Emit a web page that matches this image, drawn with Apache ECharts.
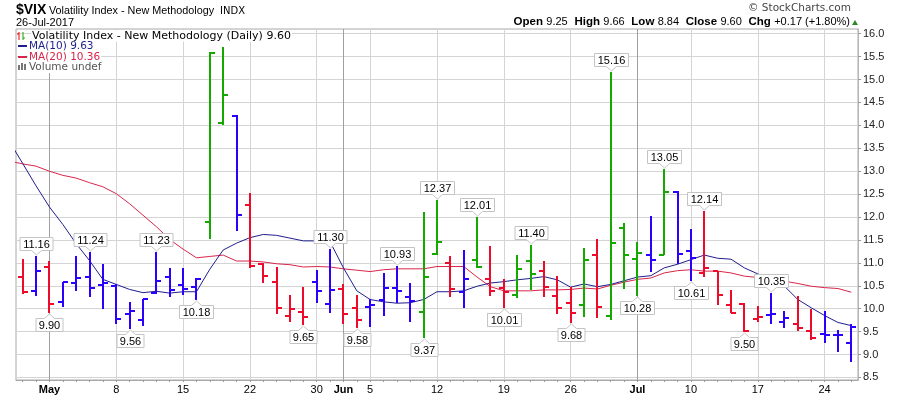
<!DOCTYPE html>
<html><head><meta charset="utf-8">
<script src="https://cdn.jsdelivr.net/npm/echarts@6/dist/echarts.min.js"></script>
<style>html,body{margin:0;padding:0;background:#fff}#c{width:900px;height:396px}</style>
</head><body><div id="c"></div>
<script>
const dates = ["2017-04-26","2017-04-27","2017-04-28","2017-05-01","2017-05-02","2017-05-03","2017-05-04","2017-05-05","2017-05-08","2017-05-09","2017-05-10","2017-05-11","2017-05-12","2017-05-15","2017-05-16","2017-05-17","2017-05-18","2017-05-19","2017-05-22","2017-05-23","2017-05-24","2017-05-25","2017-05-26","2017-05-30","2017-05-31","2017-06-01","2017-06-02","2017-06-05","2017-06-06","2017-06-07","2017-06-08","2017-06-09","2017-06-12","2017-06-13","2017-06-14","2017-06-15","2017-06-16","2017-06-19","2017-06-20","2017-06-21","2017-06-22","2017-06-23","2017-06-26","2017-06-27","2017-06-28","2017-06-29","2017-06-30","2017-07-03","2017-07-05","2017-07-06","2017-07-07","2017-07-10","2017-07-11","2017-07-12","2017-07-13","2017-07-14","2017-07-17","2017-07-18","2017-07-19","2017-07-20","2017-07-21","2017-07-24","2017-07-25","2017-07-26"];
const open = [null,10.70,10.39,10.92,10.15,10.57,10.70,10.52,10.50,9.88,9.75,10.35,10.70,10.52,10.48,11.89,14.06,14.21,12.27,10.98,10.58,9.83,9.92,10.59,10.11,10.42,10.02,10.03,10.19,10.45,10.26,9.93,11.19,11.00,10.36,11.07,10.64,10.46,10.29,11.04,10.82,10.27,10.13,10.07,11.17,9.84,11.75,11.08,11.18,11.18,12.54,11.26,10.78,10.82,10.08,10.11,9.78,9.87,9.71,9.67,9.52,9.45,9.42,9.25];
const high = [null,11.09,11.16,11.03,10.59,11.15,11.24,10.97,10.54,10.15,10.22,11.23,10.89,10.89,10.67,15.60,15.72,14.22,12.52,11.00,10.90,10.29,10.47,10.84,11.30,10.53,10.29,10.22,10.77,10.93,10.57,12.11,12.37,11.15,11.27,12.01,11.36,10.64,11.17,11.40,11.05,10.71,10.47,11.32,11.52,15.16,11.87,11.46,12.03,13.05,12.57,11.74,12.14,10.82,10.40,10.12,10.05,10.35,9.95,10.28,10.00,9.96,9.54,9.66];
const low = [null,10.32,10.28,9.90,10.03,10.39,10.26,9.99,9.67,9.56,9.62,10.33,10.26,10.29,10.18,11.51,14.01,11.70,10.89,10.55,9.88,9.72,9.65,10.13,9.91,9.66,9.58,9.59,9.85,10.13,9.72,9.37,11.18,10.25,10.02,10.88,10.27,10.01,10.24,10.40,10.25,9.88,9.68,9.81,9.80,9.76,10.43,10.28,10.79,11.18,10.98,10.61,10.69,10.08,9.90,9.50,9.71,9.67,9.58,9.51,9.32,9.26,9.06,8.84];
const close = [null,10.36,10.82,10.11,10.59,10.68,10.46,10.57,9.77,9.96,10.21,10.60,10.40,10.42,10.65,15.59,14.66,12.04,10.93,10.72,10.02,9.99,9.81,10.38,10.41,9.89,9.75,10.07,10.45,10.39,10.16,10.70,11.46,10.42,10.64,10.90,10.38,10.37,10.86,10.75,10.48,10.02,9.90,11.06,10.03,11.44,11.18,11.22,11.07,12.54,11.19,11.11,10.89,10.30,9.90,9.51,9.82,9.89,9.79,9.58,9.36,9.43,9.43,9.60];
const prevClose = 9.43;
// Elder-impulse state of each bar: 1 up, 0 neutral, -1 down
const impulse = [0,-1,0,-1,0,0,0,0,0,0,0,0,0,0,0,1,1,0,-1,-1,-1,-1,-1,0,0,-1,-1,0,0,0,0,1,1,-1,0,1,-1,-1,1,1,-1,-1,-1,1,-1,1,1,1,0,1,0,0,-1,-1,-1,-1,-1,0,0,-1,-1,0,0,0];
const ma10 = [13.65,13.17,12.68,12.22,11.84,11.42,11.05,10.64,10.53,10.42,10.35,10.38,10.34,10.37,10.37,10.86,11.28,11.43,11.55,11.62,11.60,11.54,11.48,11.48,11.46,10.89,10.39,10.20,10.15,10.12,10.13,10.20,10.37,10.37,10.39,10.49,10.56,10.59,10.63,10.66,10.70,10.63,10.47,10.54,10.48,10.53,10.61,10.69,10.72,10.89,10.97,11.07,11.17,11.10,11.08,10.89,10.76,10.62,10.49,10.20,10.02,9.85,9.70,9.63];
const ma20 = [13.22,13.16,13.11,13.00,12.91,12.85,12.75,12.66,12.51,12.29,12.04,11.79,11.51,11.30,11.11,11.14,11.17,11.04,11.04,11.02,10.98,10.96,10.91,10.92,10.91,10.87,10.84,10.81,10.85,10.87,10.87,10.87,10.92,10.92,10.92,10.69,10.48,10.39,10.39,10.39,10.41,10.41,10.42,10.45,10.43,10.51,10.58,10.64,10.67,10.78,10.83,10.85,10.82,10.82,10.78,10.71,10.68,10.66,10.60,10.55,10.49,10.46,10.44,10.36];
const highMarks = [2,6,11,24,29,32,35,39,45,49,52,57];
const lowMarks = [3,9,14,22,26,31,37,42,47,51,55];
const yTicks = [8.5,9.0,9.5,10.0,10.5,11.0,11.5,12.0,12.5,13.0,13.5,14.0,14.5,15.0,15.5,16.0];
const monthNames = ["Jan","Feb","Mar","Apr","May","Jun","Jul","Aug","Sep","Oct","Nov","Dec"];

const COL = {up:'#14a800', flat:'#2a00ff', down:'#ee0a2a'};
const FONT = '"Liberation Sans", Arial, sans-serif';
const NARROW = '"Liberation Sans Narrow", "Liberation Sans", Arial, sans-serif';
const LEGF = '"DejaVu Sans", sans-serif';

// derive week / month starts from the dates
const dayIdx = [], weekIdx = [], monthIdx = [];
for (let i = 1; i < dates.length; i++) {
  dayIdx.push(i);
  const d = new Date(dates[i] + 'T12:00:00Z'), p = new Date(dates[i-1] + 'T12:00:00Z');
  if (d.getUTCMonth() !== p.getUTCMonth()) { weekIdx.push(i); monthIdx.push(i); }
  else if (d.getUTCDay() < p.getUTCDay()) weekIdx.push(i);
}
function xLabel(v) {
  const i = Math.round(v);
  const d = new Date(dates[i] + 'T12:00:00Z');
  if (monthIdx.indexOf(i) >= 0) return '{m|' + monthNames[d.getUTCMonth()] + '}';
  return String(d.getUTCDate());
}

const ohlcData = [];
for (let i = 1; i < dates.length; i++) ohlcData.push([i, open[i], high[i], low[i], close[i], impulse[i]]);
const labData = [];
highMarks.forEach(i => labData.push([i, high[i], 1]));
lowMarks.forEach(i => labData.push([i, low[i], -1]));

const mctx = document.createElement('canvas').getContext('2d');
const LABFONT = '11px ' + NARROW;
mctx.font = LABFONT;

function renderBar(params, api) {
  const x = api.value(0);
  const pO = api.coord([x, api.value(1)]);
  const pH = api.coord([x, api.value(2)]);
  const pL = api.coord([x, api.value(3)]);
  const pC = api.coord([x, api.value(4)]);
  const imp = api.value(5);
  const color = imp > 0 ? COL.up : (imp < 0 ? COL.down : COL.flat);
  const cx = Math.round(pH[0]);
  const st = {stroke: color, lineWidth: 2};
  const oy = Math.round(pO[1]) , cy = Math.round(pC[1]);
  return {type: 'group', children: [
    {type: 'line', shape: {x1: cx, y1: Math.round(pH[1]), x2: cx, y2: Math.round(pL[1])}, style: st},
    {type: 'line', shape: {x1: cx - 5, y1: oy, x2: cx, y2: oy}, style: st},
    {type: 'line', shape: {x1: cx, y1: cy, x2: cx + 5, y2: cy}, style: st}
  ]};
}
function renderLabel(params, api) {
  const x = api.value(0), v = api.value(1), dir = api.value(2);
  const p = api.coord([x, v]);
  const txt = v.toFixed(2);
  const w = Math.round(mctx.measureText(txt).width) + 6, h = 13, ptr = 5;
  const cx = Math.round(p[0]) + 0.5;
  const tip = dir > 0 ? Math.round(p[1]) - 1 : Math.round(p[1]) + 1;
  let pts, top;
  if (dir > 0) {
    const yb = tip - ptr + 0.5; top = yb - h;
    pts = [[cx - w/2, top], [cx + w/2, top], [cx + w/2, yb], [cx + 5, yb], [cx, tip], [cx - 5, yb], [cx - w/2, yb]];
  } else {
    const yt = tip + ptr - 0.5; top = yt;
    pts = [[cx - w/2, yt], [cx - 5, yt], [cx, tip], [cx + 5, yt], [cx + w/2, yt], [cx + w/2, yt + h], [cx - w/2, yt + h]];
  }
  return {type: 'group', children: [
    {type: 'polygon', shape: {points: pts}, style: {fill: '#fff', stroke: '#c4c4c4', lineWidth: 1}},
    {type: 'text', style: {text: txt, x: cx, y: top + h/2 + 1, align: 'center', verticalAlign: 'middle', font: LABFONT, fill: '#000'}}
  ]};
}

const last = dates.length - 1;
const chg = close[last] - prevClose;
const chgPct = chg / prevClose * 100;
const sgn = v => (v >= 0 ? '+' : '') + v.toFixed(2);

const chart = echarts.init(document.getElementById('c'), null, {renderer: 'canvas'});
const xBase = {type: 'value', min: 0.5, max: 63.5, gridIndex: 0, position: 'bottom'};
chart.setOption({
  animation: false,
  backgroundColor: '#fff',
  grid: {left: 16, right: 42, top: 29, bottom: 16, show: true, borderColor: '#a8a8a8', borderWidth: 1, backgroundColor: 'transparent'},
  xAxis: [
    Object.assign({}, xBase, {
      axisLine: {show: true, onZero: false, lineStyle: {color: '#a8a8a8'}},
      axisTick: {show: true, length: 2, customValues: dayIdx, lineStyle: {color: '#999'}},
      axisLabel: {show: true, customValues: weekIdx, formatter: xLabel, margin: 4, color: '#000', fontSize: 11, fontFamily: NARROW,
        rich: {m: {fontWeight: 'bold', fontSize: 11, fontFamily: NARROW, color: '#000'}}},
      splitLine: {show: false}
    }),
    Object.assign({}, xBase, {
      axisLine: {show: false}, axisLabel: {show: false},
      axisTick: {show: false, customValues: weekIdx},
      splitLine: {show: true, lineStyle: {color: '#d4d4d4', width: 1}}
    }),
    Object.assign({}, xBase, {
      axisLine: {show: false}, axisLabel: {show: false},
      axisTick: {show: false, customValues: monthIdx},
      splitLine: {show: true, lineStyle: {color: '#a0a0a0', width: 1}}
    })
  ],
  yAxis: {
    type: 'value', position: 'right', min: 8.444, max: 16.103, scale: true,
    axisLine: {show: true, lineStyle: {color: '#b0b0b0', type: 'dotted'}},
    axisTick: {show: true, length: 3, customValues: yTicks, lineStyle: {color: '#999'}},
    axisLabel: {customValues: yTicks, formatter: v => v.toFixed(1), color: '#222', fontSize: 11, fontFamily: FONT, margin: 5},
    splitLine: {show: true, lineStyle: {color: '#d4d4d4', width: 1}}
  },
  series: [
    {name: 'MA(20)', type: 'line', xAxisIndex: 0, data: ma20.map((v, i) => [i, v]), showSymbol: false, symbol: 'none',
      lineStyle: {color: '#d8254a', width: 1}, z: 2, silent: true},
    {name: 'MA(10)', type: 'line', xAxisIndex: 0, data: ma10.map((v, i) => [i, v]), showSymbol: false, symbol: 'none',
      lineStyle: {color: '#1e1e8c', width: 1}, z: 2, silent: true},
    {name: 'VIX', type: 'custom', xAxisIndex: 0, renderItem: renderBar, data: ohlcData, encode: {x: 0, y: [1, 2, 3, 4]}, z: 3, clip: true},
    {name: 'marks', type: 'custom', xAxisIndex: 0, renderItem: renderLabel, data: labData, encode: {x: 0, y: 1}, z: 4, clip: false}
  ],
  graphic: [
    {type: 'text', x: 16, y: 10, z: 10, style: {text: '$VIX', font: 'bold 14px ' + FONT, fill: '#000', verticalAlign: 'middle'}},
    {type: 'text', x: 49, y: 11, z: 10, style: {text: 'Volatility Index - New Methodology', font: '10.8px ' + FONT, fill: '#000', verticalAlign: 'middle'}},
    {type: 'text', x: 220, y: 11, z: 10, style: {text: 'INDX', font: '10px ' + LEGF, fill: '#000', verticalAlign: 'middle'}},
    {type: 'text', x: 16, y: 23, z: 10, style: {text: '26-Jul-2017', font: '11px ' + FONT, fill: '#000', verticalAlign: 'middle'}},
    {type: 'text', x: 851, y: 8, z: 10, style: {text: '\u00A9 StockCharts.com', font: '10.5px ' + LEGF, fill: '#444', align: 'right', verticalAlign: 'middle'}},
    {type: 'text', x: 850, y: 22, z: 10, style: {
      text: '{b|Open} {n|' + open[last].toFixed(2) + '}  {b|High} {n|' + high[last].toFixed(2) + '}  {b|Low} {n|' + low[last].toFixed(2) +
            '}  {b|Close} {n|' + close[last].toFixed(2) + '}  {b|Chg} {n|' + sgn(chg) + ' (' + sgn(chgPct) + '%)}',
      align: 'right', verticalAlign: 'middle',
      rich: {b: {font: 'bold 11.5px ' + FONT, fill: '#000'}, n: {font: '11px ' + FONT, fill: '#000'}}}},
    {type: 'polygon', z: 10, shape: {points: [[852, 25], [858, 25], [855, 20]]}, style: {fill: '#2a8a2a'}},
    // legend
    {type: 'line', z: 10, shape: {x1: 19, y1: 32, x2: 19, y2: 40}, style: {stroke: '#e00', lineWidth: 1}},
    {type: 'line', z: 10, shape: {x1: 17, y1: 34, x2: 19, y2: 34}, style: {stroke: '#e00', lineWidth: 1}},
    {type: 'line', z: 10, shape: {x1: 23, y1: 32, x2: 23, y2: 40}, style: {stroke: '#14a800', lineWidth: 1}},
    {type: 'line', z: 10, shape: {x1: 23, y1: 38, x2: 25, y2: 38}, style: {stroke: '#14a800', lineWidth: 1}},
    {type: 'text', x: 31, y: 36, z: 10, style: {text: 'Volatility Index - New Methodology (Daily) ' + close[last].toFixed(2), font: '11px ' + LEGF, fill: '#000', verticalAlign: 'middle', backgroundColor: '#fff', padding: [0, 1]}},
    {type: 'rect', z: 10, shape: {x: 18, y: 45, width: 9, height: 2}, style: {fill: '#1e1e8c'}},
    {type: 'text', x: 28, y: 46.5, z: 10, style: {text: 'MA(10) ' + ma10[last].toFixed(2), font: '10.5px ' + LEGF, fill: '#1e1e8c', verticalAlign: 'middle', backgroundColor: '#fff', padding: [0, 1]}},
    {type: 'rect', z: 10, shape: {x: 18, y: 56, width: 9, height: 2}, style: {fill: '#d8254a'}},
    {type: 'text', x: 28, y: 57.5, z: 10, style: {text: 'MA(20) ' + ma20[last].toFixed(2), font: '10.5px ' + LEGF, fill: '#d8254a', verticalAlign: 'middle', backgroundColor: '#fff', padding: [0, 1]}},
    {type: 'rect', z: 10, shape: {x: 18, y: 65, width: 2, height: 5}, style: {fill: '#777'}},
    {type: 'rect', z: 10, shape: {x: 21, y: 63, width: 2, height: 7}, style: {fill: '#777'}},
    {type: 'rect', z: 10, shape: {x: 24, y: 64, width: 2, height: 6}, style: {fill: '#777'}},
    {type: 'text', x: 28, y: 67.5, z: 10, style: {text: 'Volume undef', font: '10.5px ' + LEGF, fill: '#555', verticalAlign: 'middle', backgroundColor: '#fff', padding: [0, 1]}}
  ]
});
</script>
</body></html>
